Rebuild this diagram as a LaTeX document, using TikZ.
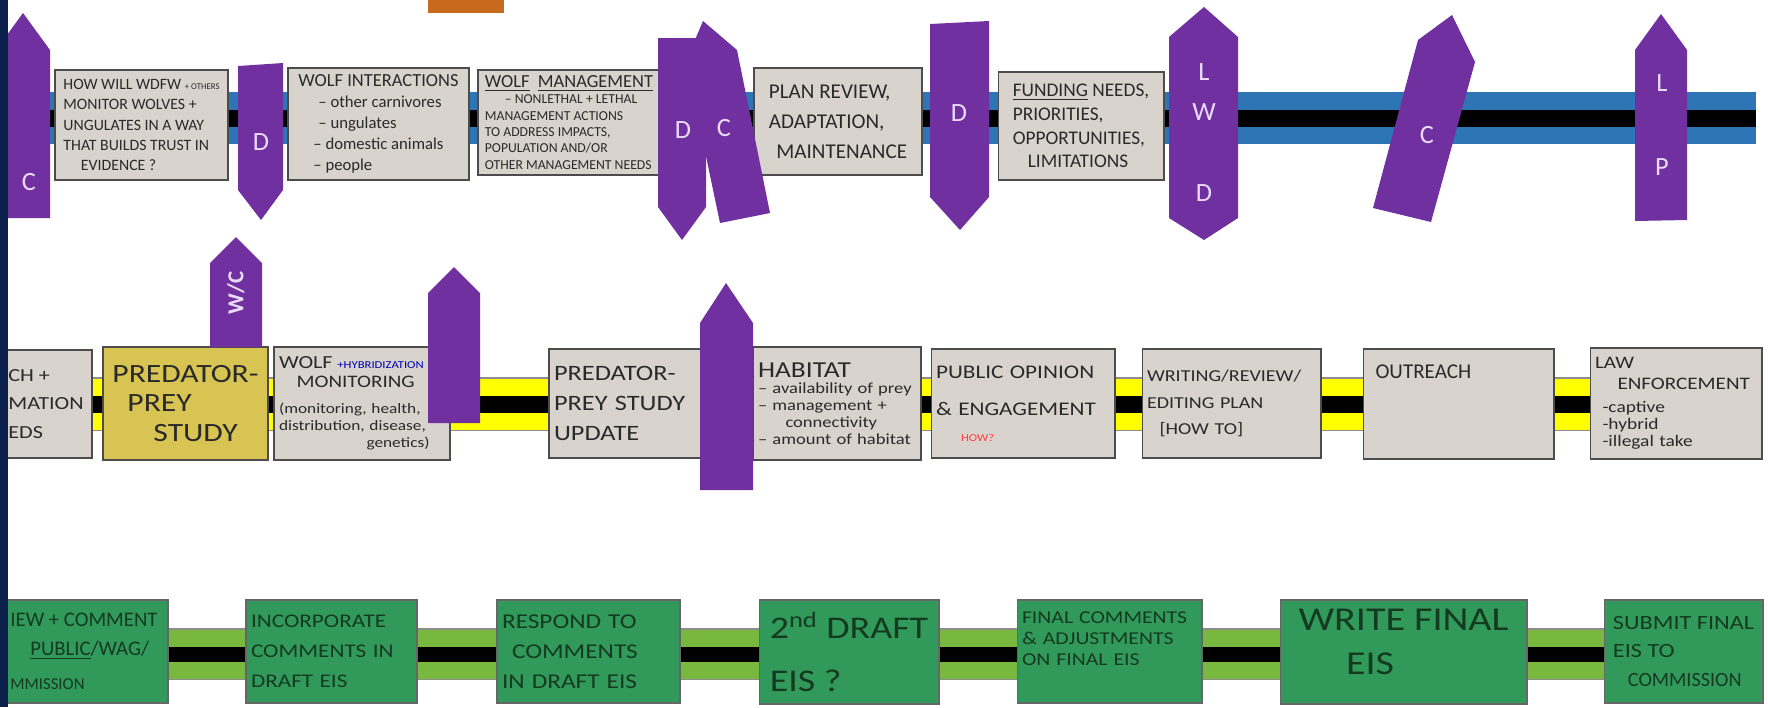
\documentclass[tikz,border=0pt]{standalone}
\usepackage{fontspec}
\setmainfont{Carlito}
\newfontfamily\handwide[FakeStretch=1.2, Ligatures=TeX]{Carlito}
\usetikzlibrary{backgrounds}
\hyphenpenalty=10000
\exhyphenpenalty=10000

\definecolor{navy}{HTML}{0B1F4B}
\definecolor{tagpurple}{HTML}{7030A0}
\definecolor{taglav}{HTML}{EADCF8}
\definecolor{cardgray}{HTML}{D9D3CE}
\definecolor{studygold}{HTML}{D8C452}
\definecolor{eisgreen}{HTML}{31995A}
\definecolor{bandblue}{HTML}{2E75B6}
\definecolor{bandyellow}{HTML}{FFFF00}
\definecolor{bandgreen}{HTML}{79B83E}
\definecolor{stickyorange}{HTML}{C86A1E}
\definecolor{ink}{HTML}{2A2A2A}
\definecolor{greenink}{HTML}{143A1F}

\begin{document}
\begin{tikzpicture}[x=0.02cm, y=-0.02cm,
    card/.style={draw=black!70, line width=0.6pt, fill=cardgray, text=ink, align=left,
      inner xsep=0.1cm, inner ysep=0pt, font=\fontsize{9}{11.5}\selectfont},
    eiscard/.style={card, draw=black!60, fill=eisgreen, text=greenink},
    tag/.style={fill=tagpurple},
    taglbl/.style={text=taglav, inner sep=0pt, font=\fontsize{15}{17}\selectfont},
    blueband/.style={draw=bandblue, line width=0.35cm, double=black, double distance=0.34cm},
    bandedge/.style={draw=black!45, line width=1.08cm},
    yellowband/.style={draw=bandyellow, line width=0.34cm, double=black, double distance=0.34cm},
    greenband/.style={draw=bandgreen, line width=0.34cm, double=black, double distance=0.3cm}]
    \useasboundingbox (0,0) rectangle (1768,707);

    % sticky note cut at the top
    \fill[stickyorange] (428,0) rectangle (504,13);

    % Row 1: plan contents
    \node[card, minimum width=3.46cm, minimum height=2.2cm] (monitor) at (141.5,125)
        {HOW WILL WDFW {\fontsize{5}{6}\selectfont + OTHERS}\\ MONITOR WOLVES +\\ UNGULATES IN A WAY\\
         THAT BUILDS TRUST IN\\ \hspace*{0.35cm}EVIDENCE ?};
    \node[card, minimum width=3.62cm, minimum height=2.24cm, font=\fontsize{9.5}{12}\selectfont] (interact) at (378.5,124)
        {{\fontsize{10.5}{13}\selectfont WOLF INTERACTIONS}\\ \hspace*{0.4cm}-- other carnivores\\
         \hspace*{0.4cm}-- ungulates\\ \hspace*{0.3cm}-- domestic animals\\ \hspace*{0.3cm}-- people};
    \node[card, minimum width=3.64cm, minimum height=2.1cm, font=\fontsize{7.8}{9.3}\selectfont] (manage) at (569,122.5)
        {{\fontsize{10.5}{13}\selectfont \underline{WOLF}\ \ \underline{MANAGEMENT}}\\
         \hspace*{0.4cm}-- NONLETHAL + LETHAL\\ MANAGEMENT ACTIONS\\ TO ADDRESS IMPACTS,\\
         POPULATION AND/OR\\ OTHER MANAGEMENT NEEDS};
    \node[card, minimum width=3.36cm, minimum height=2.14cm, font=\fontsize{12}{17}\selectfont] (review) at (838,121.5)
        {PLAN REVIEW,\\ ADAPTATION,\\ \hspace*{0.15cm}MAINTENANCE};
    \node[card, minimum width=3.32cm, minimum height=2.16cm, font=\fontsize{11}{13.5}\selectfont] (funding) at (1081,126)
        {\underline{FUNDING} NEEDS,\\ PRIORITIES,\\ OPPORTUNITIES,\\ \hspace*{0.3cm}LIMITATIONS};

    % Row 2: topics
    \node[card, minimum width=1.84cm, minimum height=2.16cm, font=\handwide\fontsize{10.5}{16}\selectfont] (research) at (46,404)
        {CH +\\ MATION\\ EDS};
    \node[card, fill=studygold, minimum width=3.3cm, minimum height=2.26cm, font=\handwide\fontsize{15}{17}\selectfont] (ppstudy) at (185.5,403.5)
        {PREDATOR-\\ \hspace*{0.3cm}PREY\\ \hspace*{0.82cm}STUDY};
    \node[card, minimum width=3.52cm, text width=3.32cm, minimum height=2.26cm, font=\handwide\fontsize{8.2}{9.8}\selectfont] (wolfmon) at (362,403.5)
        {{\fontsize{10.5}{12}\selectfont WOLF} {\color{blue!70!black}\fontsize{6}{7}\selectfont +HYBRIDIZATION}\\[1pt]
         \hspace*{0.35cm}{\fontsize{10}{12}\selectfont MONITORING}\\[5pt] (monitoring, health,\\
         distribution, disease,\\ \hspace*{1.75cm}genetics)};
    \node[card, minimum width=3.26cm, text width=3.06cm, minimum height=2.18cm, font=\handwide\fontsize{12.5}{17}\selectfont] (ppupdate) at (630.5,403.5)
        {PREDATOR-\\ PREY STUDY\\ UPDATE};
    \node[card, minimum width=3.36cm, text width=3.16cm, minimum height=2.26cm, font=\handwide\fontsize{8.8}{9.6}\selectfont] (habitat) at (837,403.5)
        {{\fontsize{13}{15}\selectfont HABITAT}\\ -- availability of prey\\ -- management +\\
         \hspace*{0.55cm}connectivity\\ -- amount of habitat};
    \node[card, minimum width=3.68cm, text width=3.48cm, minimum height=2.18cm, font=\handwide\fontsize{11}{13}\selectfont] (opinion) at (1023,403.5)
        {PUBLIC OPINION\\[8pt] \& ENGAGEMENT\\[2pt] \hspace*{0.5cm}{\color{red!75}\fontsize{6}{7}\selectfont HOW?}};
    \node[card, minimum width=3.58cm, text width=3.38cm, minimum height=2.18cm, font=\handwide\fontsize{9.5}{15}\selectfont] (writing) at (1231.5,403.5)
        {WRITING/REVIEW/\\ EDITING PLAN\\ \hspace*{0.25cm}[HOW TO]};
    \node[card, minimum width=3.82cm, minimum height=2.2cm, text width=3.32cm, inner xsep=0.25cm,
          text depth=1.3cm, font=\fontsize{12}{14}\selectfont] (outreach) at (1458.5,404) {OUTREACH};
    \node[card, minimum width=3.44cm, text width=3.24cm, minimum height=2.22cm, font=\handwide\fontsize{9.2}{9.8}\selectfont] (lawenf) at (1676,403.5)
        {{\fontsize{10}{12}\selectfont LAW}\\[2pt] \hspace*{0.45cm}{\fontsize{10}{12}\selectfont ENFORCEMENT}\\[3pt]
         \hspace*{0.15cm}-captive\\ \hspace*{0.15cm}-hybrid\\ \hspace*{0.15cm}-illegal take};

    % Row 3: EIS steps
    \node[eiscard, minimum width=3.36cm, minimum height=2.06cm, font=\fontsize{11.8}{13.5}\selectfont] (comment) at (84,651.5)
        {IEW + COMMENT\\[3pt] \hspace*{0.4cm}\underline{PUBLIC}/WAG/\\[6pt] {\fontsize{9.5}{11}\selectfont MMISSION}};
    \node[eiscard, minimum width=3.42cm, text width=3.22cm, minimum height=2.06cm, font=\handwide\fontsize{11}{17}\selectfont] (incorp) at (331.5,651.5)
        {INCORPORATE\\ COMMENTS IN\\ DRAFT EIS};
    \node[eiscard, minimum width=3.66cm, text width=3.46cm, minimum height=2.06cm, font=\handwide\fontsize{12}{17}\selectfont] (respond) at (588.5,651.5)
        {RESPOND TO\\ \hspace*{0.2cm}COMMENTS\\ IN DRAFT EIS};
    \node[eiscard, minimum width=3.6cm, minimum height=2.08cm, font=\handwide\fontsize{18}{30}\selectfont] (draft2) at (849,652)
        {2\textsuperscript{nd} DRAFT\\ EIS ?};
    \node[eiscard, minimum width=3.7cm, text width=3.5cm, minimum height=2.06cm, text depth=1.35cm, font=\handwide\fontsize{10.3}{11.8}\selectfont] (finalc) at (1109.5,651.5)
        {FINAL COMMENTS\\ \& ADJUSTMENTS\\ ON FINAL EIS};
    \node[eiscard, minimum width=4.94cm, minimum height=2.08cm, text depth=0.4cm, font=\handwide\fontsize{19}{25}\selectfont] (writefin) at (1403.5,652)
        {WRITE FINAL\\ \hspace*{0.95cm}EIS};
    \node[eiscard, minimum width=3.18cm, minimum height=2.06cm, font=\handwide\fontsize{11.5}{16.5}\selectfont] (submit) at (1683.5,651.5)
        {SUBMIT FINAL\\ EIS TO\\ \hspace*{0.3cm}{\rmfamily COMMISSION}};

    % timelines behind the cards
    \coordinate (r1w) at (20,118);
    \coordinate (r1e) at (1756,118);
    \coordinate (r2w) at (0,404);
    \coordinate (r3w) at (0,654);
    \begin{scope}[on background layer]
        \draw[blueband] (r1w) -- (r1e);
        \draw[bandedge] (r2w) -- (r2w -| lawenf.center);
        \draw[yellowband] (r2w) -- (r2w -| lawenf.center);
        \draw[bandedge, line width=1.04cm] (r3w) -- (r3w -| submit.center);
        \draw[greenband] (r3w) -- (r3w -| submit.center);
    \end{scope}

    % purple flags
    \fill[tag] (-4,218) -- (-4,50) -- (23,13) -- (50,50) -- (50,218) -- cycle;
    \node[taglbl] (cA) at (29,182) {C};
    \fill[tag] (238,66) -- (283,63) -- (283,190) -- (261,220) -- (238,190) -- cycle;
    \node[taglbl] (dA) at (261,142) {D};
    \fill[tag] (658,38) -- (706,38) -- (706,207) -- (682,240) -- (658,207) -- cycle;
    \node[taglbl] (dB) at (683,130) {D};
    \fill[tag] (720,223) -- (686,61) -- (703,21) -- (737,50) -- (770,213) -- cycle;
    \node[taglbl] (cB) at (724,128) {C};
    \fill[tag] (930,24) -- (989,21) -- (989,197) -- (960,230) -- (930,197) -- cycle;
    \node[taglbl] (dC) at (959,113) {D};
    \fill[tag] (1169,37) -- (1204,7) -- (1238,37) -- (1238,218) -- (1204,240) -- (1169,218) -- cycle;
    \node[taglbl] (lwdL) at (1204,72) {L};
    \node[taglbl] (lwdW) at (1204,112) {W};
    \node[taglbl] (lwdD) at (1204,193) {D};
    \fill[tag] (1373,208) -- (1418,40) -- (1452,15) -- (1475,62) -- (1431,222) -- cycle;
    \node[taglbl] (cC) at (1427,135) {C};
    \fill[tag] (1635,221) -- (1635,50) -- (1661,14) -- (1687,50) -- (1687,220) -- cycle;
    \node[taglbl] (lpL) at (1662,83) {L};
    \node[taglbl] (lpP) at (1662,167) {P};

    \fill[tag] (210,347) -- (210,263) -- (236,237) -- (262,263) -- (262,347) -- cycle;
    \node[taglbl, rotate=90, font=\fontsize{13}{15}\selectfont\bfseries] (wc) at (236,293) {W/C};
    \fill[tag] (428,423) -- (428,293) -- (454,267) -- (480,293) -- (480,423) -- cycle;
    \fill[tag] (700,490) -- (700,323) -- (726,283) -- (753,323) -- (753,490) -- cycle;

    % slide edge
    \fill[navy] (0,0) rectangle (8,707);
\end{tikzpicture}
\end{document}
